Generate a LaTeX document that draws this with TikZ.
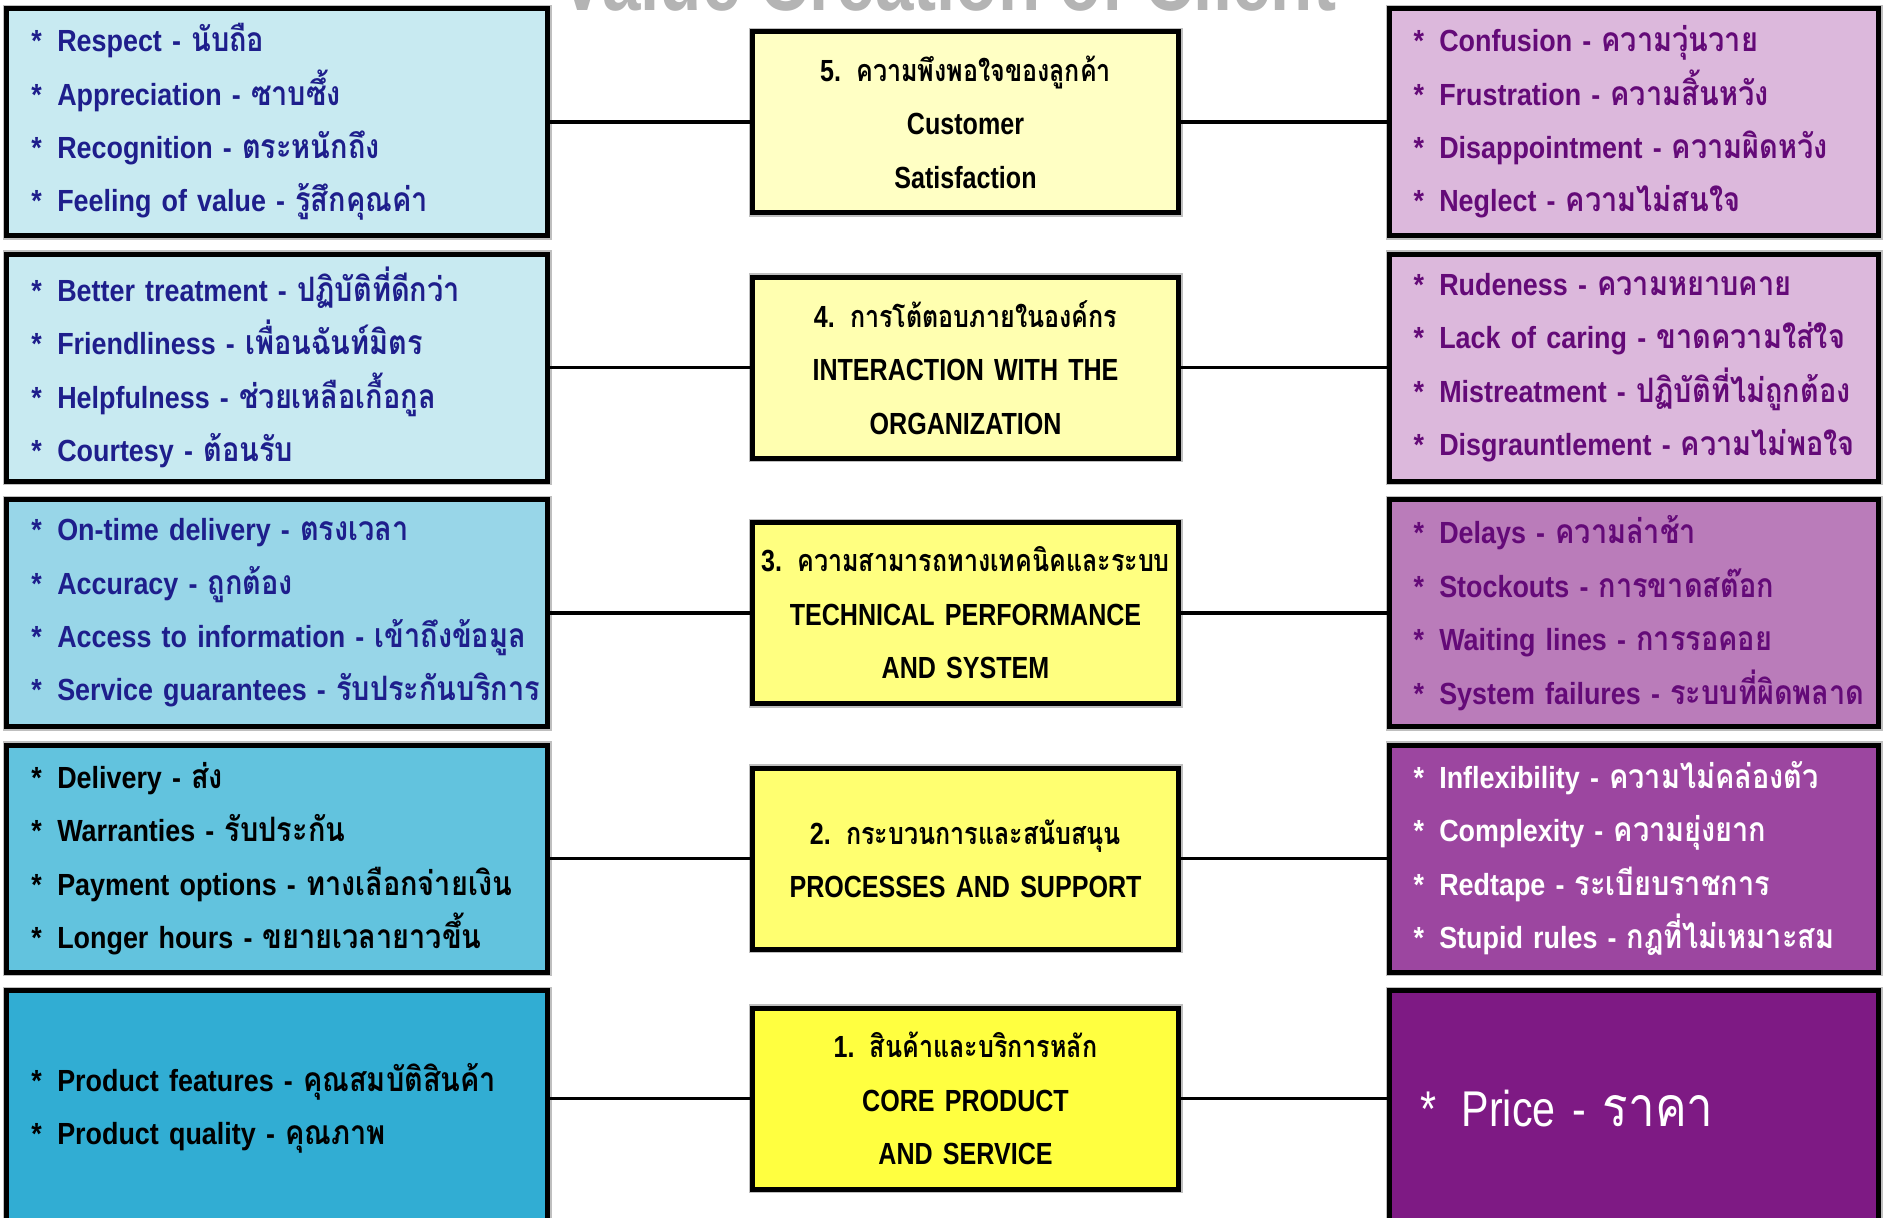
\documentclass[tikz,border=0pt]{standalone}
\usepackage{fontspec}
\setmainfont[FakeStretch=0.82]{Liberation Sans}
\newfontfamily\itemfont[FakeStretch=0.88]{Liberation Sans}
\newfontfamily\thaifont[Script=Thai, Scale=1.1, FakeStretch=0.86]{Loma}
\newfontfamily\thaititle[Script=Thai, FakeStretch=0.82]{Loma}
\newcommand{\thx}[1]{{\thaifont #1}}
\newcommand{\itemline}[2]{\mbox{*\hspace{0.5em}#1 - \thx{#2}}}
\usetikzlibrary{positioning}

\definecolor{plusA}{HTML}{C8EAF1}
\definecolor{plusB}{HTML}{98D6E8}
\definecolor{plusC}{HTML}{62C3DE}
\definecolor{plusD}{HTML}{31ADD3}
\definecolor{minusA}{HTML}{DCB8DC}
\definecolor{minusB}{HTML}{BA7CBA}
\definecolor{minusC}{HTML}{9C46A0}
\definecolor{minusD}{HTML}{7E1A84}
\definecolor{levelA}{HTML}{FFFFC4}
\definecolor{levelB}{HTML}{FFFFB0}
\definecolor{levelC}{HTML}{FFFF80}
\definecolor{levelD}{HTML}{FFFF70}
\definecolor{levelE}{HTML}{FFFF40}
\definecolor{navytext}{HTML}{1E1E8C}
\definecolor{purpletext}{HTML}{640A78}
\definecolor{titlegray}{HTML}{B4B4B4}

\begin{document}
\begin{tikzpicture}[node distance=1.85mm and 20.5mm,
        % styles
        panel/.style = {
                rectangle, draw=black, line width=0.5mm, outer sep=0pt,
                preaction={draw=black!25, line width=0.8mm},
                font=\bfseries\fontsize{8.7pt}{15.2pt}\selectfont
            },
        plusbox/.style = {
                panel, align=left, inner xsep=2.5mm, inner ysep=1mm,
                text width=49.1mm, minimum height=22.7mm,
                font=\itemfont\bfseries\fontsize{8.7pt}{15.2pt}\selectfont,
                text=navytext
            },
        minusbox/.style = {
                plusbox, inner xsep=2.4mm, text width=44.1mm,
                text=purpletext
            },
        levelbox/.style = {
                panel, align=center, inner xsep=0.5mm, inner ysep=1mm,
                text width=41.6mm, minimum height=18.1mm
            },
        link/.style = {
                line width=0.35mm
            }]

    \useasboundingbox (0,0) rectangle (188.3mm,-121.7mm);

    % slide title, cut off by the top edge
    \node (title) [anchor=base, text=titlegray, font=\bfseries\fontsize{24pt}{28pt}\selectfont]
        at (94.8mm,-1.0mm) {Value Creation of Client};

    % left column: what the customer gains
    \node (sat_good) [plusbox, fill=plusA] at (27.7mm,-12.2mm)
        {\itemline{Respect}{นับถือ}\\
         \itemline{Appreciation}{ซาบซึ้ง}\\
         \itemline{Recognition}{ตระหนักถึง}\\
         \itemline{Feeling of value}{รู้สึกคุณค่า}};
    \node (int_good) [plusbox, fill=plusA, below=of sat_good]
        {\itemline{Better treatment}{ปฏิบัติที่ดีกว่า}\\
         \itemline{Friendliness}{เพื่อนฉันท์มิตร}\\
         \itemline{Helpfulness}{ช่วยเหลือเกื้อกูล}\\
         \itemline{Courtesy}{ต้อนรับ}};
    \node (tech_good) [plusbox, fill=plusB, below=of int_good]
        {\itemline{On-time delivery}{ตรงเวลา}\\
         \itemline{Accuracy}{ถูกต้อง}\\
         \itemline{Access to information}{เข้าถึงข้อมูล}\\
         \itemline{Service guarantees}{รับประกันบริการ}};
    \node (proc_good) [plusbox, fill=plusC, text=black, below=of tech_good]
        {\itemline{Delivery}{ส่ง}\\
         \itemline{Warranties}{รับประกัน}\\
         \itemline{Payment options}{ทางเลือกจ่ายเงิน}\\
         \itemline{Longer hours}{ขยายเวลายาวขึ้น}};
    \node (core_good) [plusbox, fill=plusD, text=black, minimum height=23.6mm, below=of proc_good]
        {\itemline{Product features}{คุณสมบัติสินค้า}\\
         \itemline{Product quality}{คุณภาพ}};

    % middle column: the five levels
    \node (sat_level) [levelbox, fill=levelA, right=of sat_good]
        {5. {\thaititle ความพึงพอใจของลูกค้า}\\Customer\\Satisfaction};
    \node (int_level) [levelbox, fill=levelB, right=of int_good]
        {4. {\thaititle การโต้ตอบภายในองค์กร}\\INTERACTION WITH THE\\ORGANIZATION};
    \node (tech_level) [levelbox, fill=levelC, right=of tech_good]
        {\mbox{3. {\thaititle ความสามารถทางเทคนิคและระบบ}}\\TECHNICAL PERFORMANCE\\AND SYSTEM};
    \node (proc_level) [levelbox, fill=levelD, right=of proc_good]
        {2. {\thaititle กระบวนการและสนับสนุน}\\PROCESSES AND SUPPORT};
    \node (core_level) [levelbox, fill=levelE, right=of core_good, yshift=1mm]
        {1. {\thaititle สินค้าและบริการหลัก}\\CORE PRODUCT\\AND SERVICE};

    % right column: what the customer suffers
    \node (sat_bad) [minusbox, fill=minusA, right=21.1mm of sat_level]
        {\itemline{Confusion}{ความวุ่นวาย}\\
         \itemline{Frustration}{ความสิ้นหวัง}\\
         \itemline{Disappointment}{ความผิดหวัง}\\
         \itemline{Neglect}{ความไม่สนใจ}};
    \node (int_bad) [minusbox, fill=minusA, below=of sat_bad]
        {\itemline{Rudeness}{ความหยาบคาย}\\
         \itemline{Lack of caring}{ขาดความใส่ใจ}\\
         \itemline{Mistreatment}{ปฏิบัติที่ไม่ถูกต้อง}\\
         \itemline{Disgrauntlement}{ความไม่พอใจ}};
    \node (tech_bad) [minusbox, fill=minusB, below=of int_bad]
        {\itemline{Delays}{ความล่าช้า}\\
         \itemline{Stockouts}{การขาดสต๊อก}\\
         \itemline{Waiting lines}{การรอคอย}\\
         \itemline{System failures}{ระบบที่ผิดพลาด}};
    \node (proc_bad) [minusbox, fill=minusC, text=white, below=of tech_bad]
        {\itemline{Inflexibility}{ความไม่คล่องตัว}\\
         \itemline{Complexity}{ความยุ่งยาก}\\
         \itemline{Redtape}{ระเบียบราชการ}\\
         \itemline{Stupid rules}{กฎที่ไม่เหมาะสม}};
    \node (core_bad) [minusbox, fill=minusD, text=white, minimum height=23.6mm, below=of proc_bad,
        font=\fontsize{14.3pt}{17pt}\selectfont, inner xsep=3.1mm, text width=42.7mm]
        {\itemline{Price}{ราคา}};

    % connectors
    \draw [link] (sat_good) -- (sat_level);
    \draw [link] (sat_level) -- (sat_bad);
    \draw [link] (int_good) -- (int_level);
    \draw [link] (int_level) -- (int_bad);
    \draw [link] (tech_good) -- (tech_level);
    \draw [link] (tech_level) -- (tech_bad);
    \draw [link] (proc_good) -- (proc_level);
    \draw [link] (proc_level) -- (proc_bad);
    \draw [link] (core_good.east |- core_level) -- (core_level);
    \draw [link] (core_level) -- (core_level -| core_bad.west);
\end{tikzpicture}
\end{document}
